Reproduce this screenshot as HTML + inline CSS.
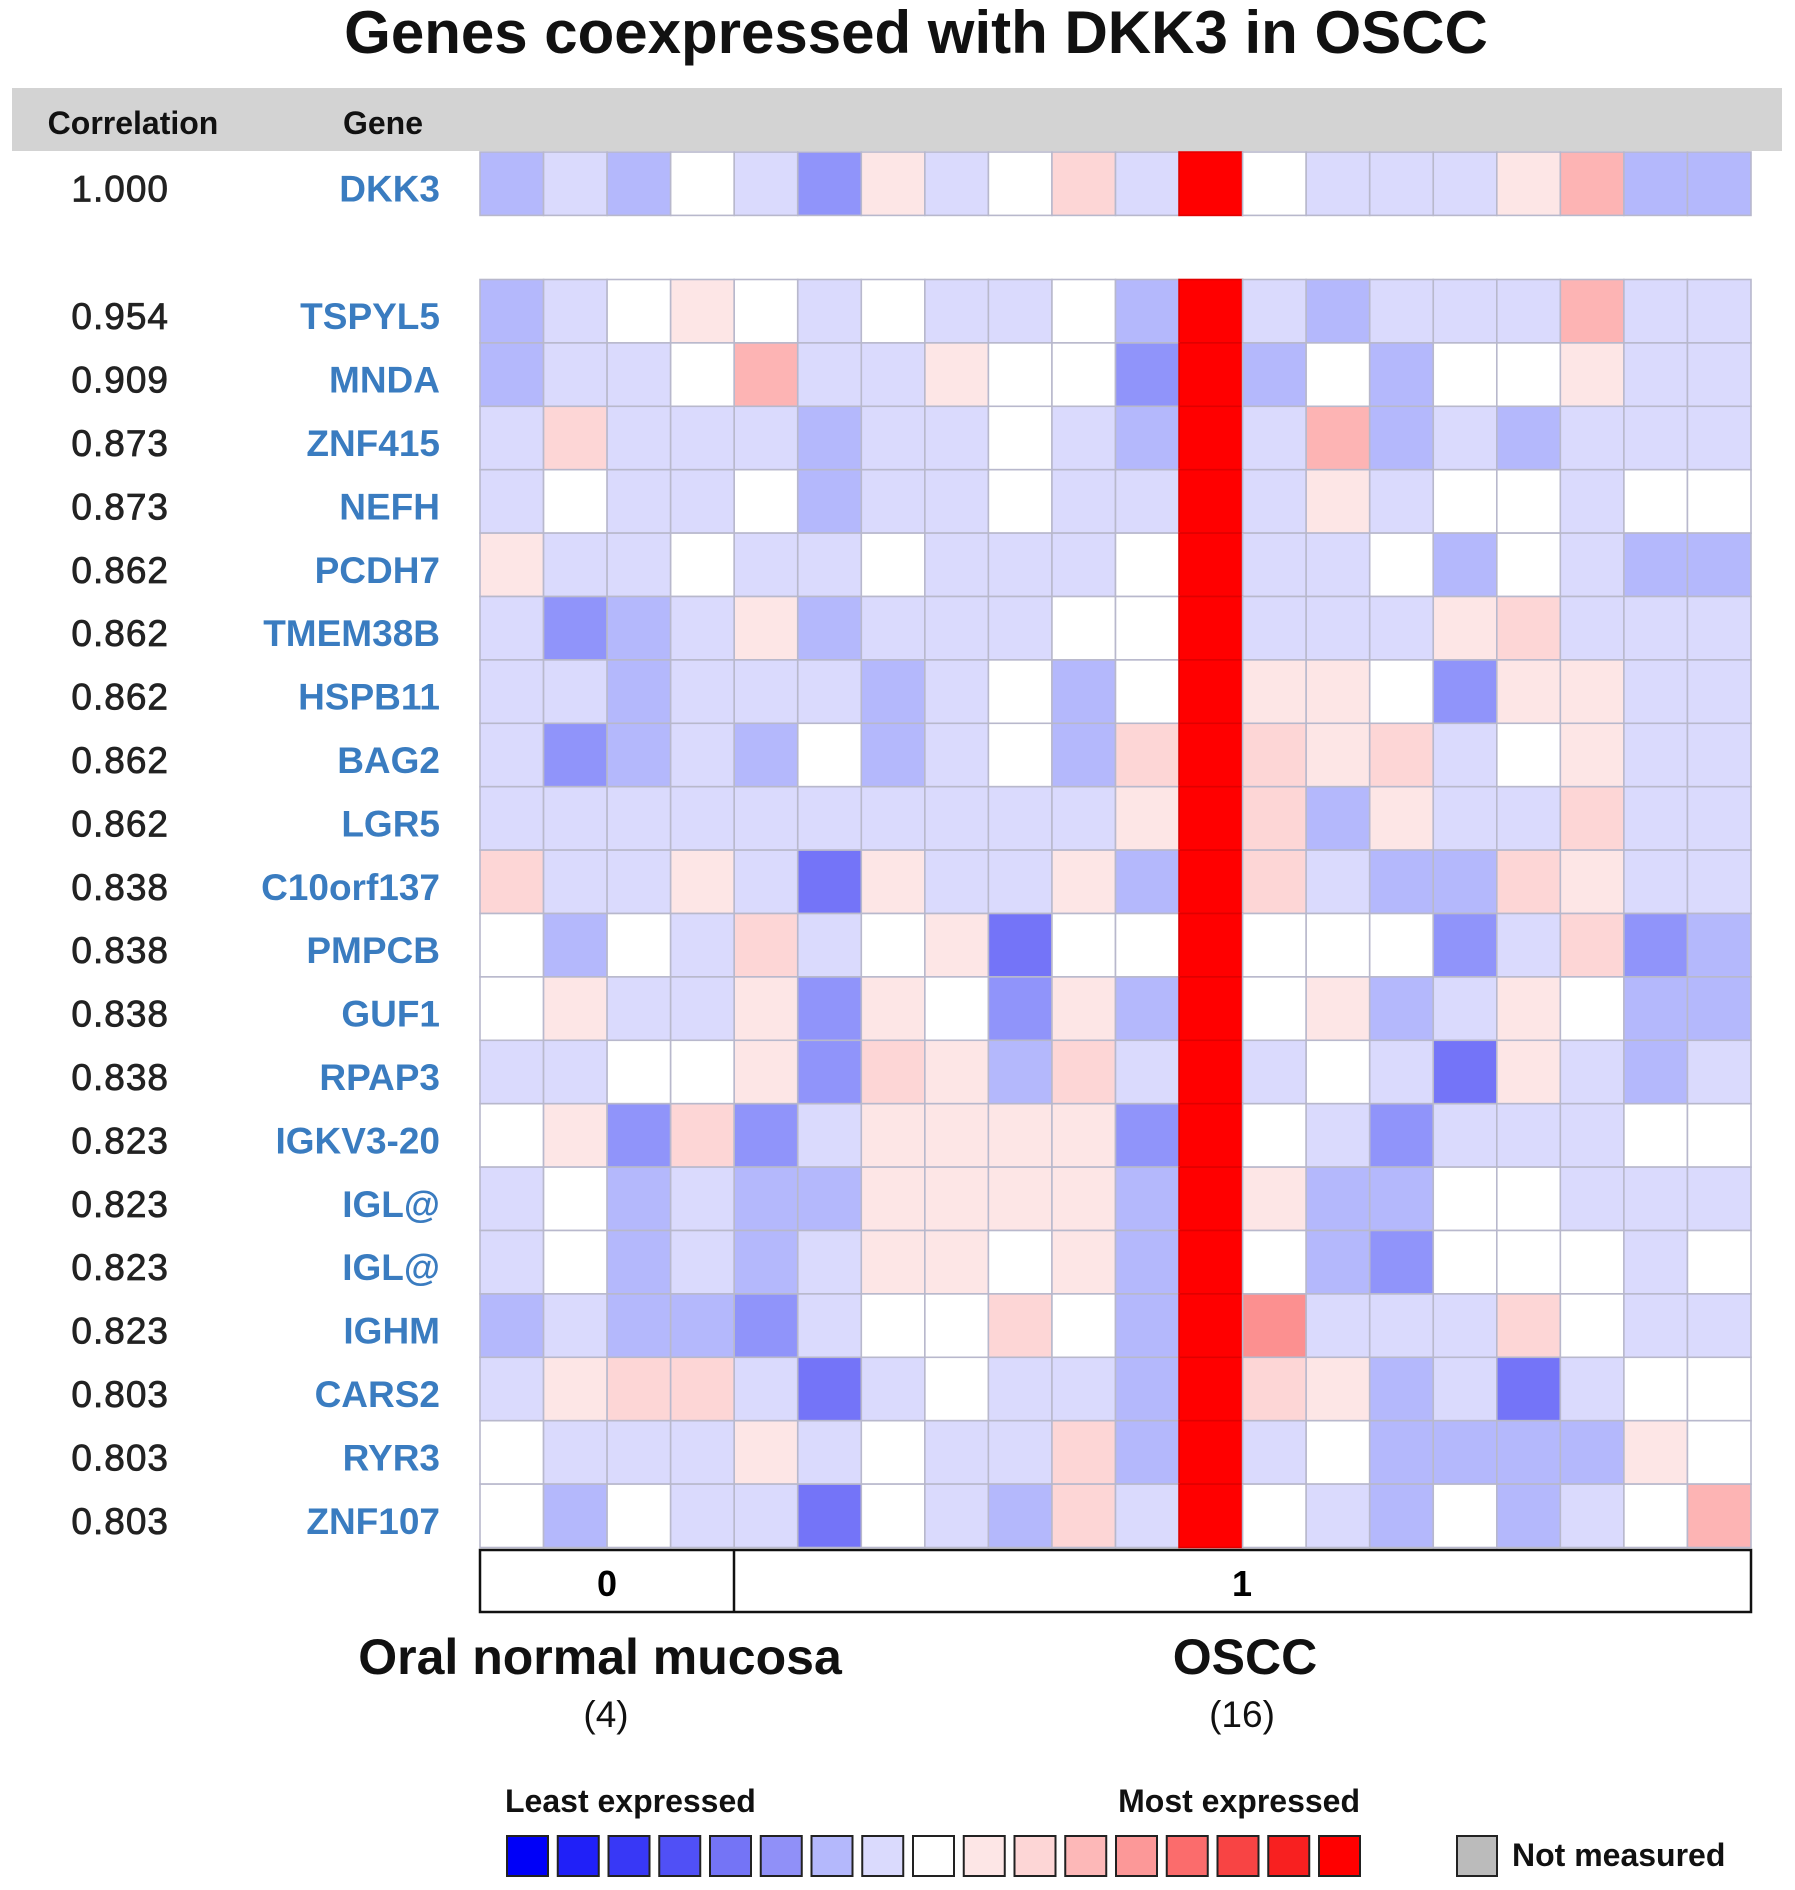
<!DOCTYPE html>
<html><head><meta charset="utf-8"><style>
html,body{margin:0;padding:0;background:#fff;}
svg{display:block;font-family:"Liberation Sans",Arial,sans-serif;}
</style></head><body>
<svg id="chart" width="1795" height="1890" viewBox="0 0 1795 1890" xmlns="http://www.w3.org/2000/svg">
<text x="916" y="53" text-anchor="middle" font-size="60" font-weight="bold" fill="#111">Genes coexpressed with DKK3 in OSCC</text>
<rect x="12" y="88" width="1770" height="63" fill="#d3d3d3"/>
<text x="133" y="134" text-anchor="middle" font-size="32" font-weight="bold" fill="#111">Correlation</text>
<text x="383" y="134" text-anchor="middle" font-size="32" font-weight="bold" fill="#111">Gene</text>
<g id="rows"></g>
<g id="cells"></g>
<g>
<rect x="480" y="1550" width="1271" height="62" fill="#fff" stroke="#111" stroke-width="2.5"/>
<line x1="734" y1="1550" x2="734" y2="1612" stroke="#111" stroke-width="2.5"/>
<text x="607" y="1596" text-anchor="middle" font-size="36" font-weight="bold">0</text>
<text x="1242" y="1596" text-anchor="middle" font-size="36" font-weight="bold">1</text>
</g>
<text x="600" y="1674" text-anchor="middle" font-size="50" font-weight="bold" fill="#111">Oral normal mucosa</text>
<text x="1245" y="1674" text-anchor="middle" font-size="50" font-weight="bold" fill="#111">OSCC</text>
<text x="606" y="1727" text-anchor="middle" font-size="37" fill="#111">(4)</text>
<text x="1242" y="1727" text-anchor="middle" font-size="37" fill="#111">(16)</text>
<text x="505" y="1812" font-size="32" font-weight="bold" fill="#111">Least expressed</text>
<text x="1360" y="1812" text-anchor="end" font-size="32" font-weight="bold" fill="#111">Most expressed</text>
<g id="legend"></g>
<rect x="1457" y="1836" width="40" height="40" fill="#bbb" stroke="#222" stroke-width="2"/>
<text x="1512" y="1866" font-size="32" font-weight="bold" fill="#111">Not measured</text>
</svg>
<script>
const genes = ["DKK3","TSPYL5","MNDA","ZNF415","NEFH","PCDH7","TMEM38B","HSPB11","BAG2","LGR5","C10orf137","PMPCB","GUF1","RPAP3","IGKV3-20","IGL@","IGL@","IGHM","CARS2","RYR3","ZNF107"];
const correlations = ["1.000","0.954","0.909","0.873","0.873","0.862","0.862","0.862","0.862","0.862","0.838","0.838","0.838","0.838","0.823","0.823","0.823","0.823","0.803","0.803","0.803"];
const R = 9;
const levels = [
[-2,-1,-2,0,-1,-3,1,-1,0,2,-1,R,0,-1,-1,-1,1,3,-2,-2],
[-2,-1,0,1,0,-1,0,-1,-1,0,-2,R,-1,-2,-1,-1,-1,3,-1,-1],
[-2,-1,-1,0,3,-1,-1,1,0,0,-3,R,-2,0,-2,0,0,1,-1,-1],
[-1,2,-1,-1,-1,-2,-1,-1,0,-1,-2,R,-1,3,-2,-1,-2,-1,-1,-1],
[-1,0,-1,-1,0,-2,-1,-1,0,-1,-1,R,-1,1,-1,0,0,-1,0,0],
[1,-1,-1,0,-1,-1,0,-1,-1,-1,0,R,-1,-1,0,-2,0,-1,-2,-2],
[-1,-3,-2,-1,1,-2,-1,-1,-1,0,0,R,-1,-1,-1,1,2,-1,-1,-1],
[-1,-1,-2,-1,-1,-1,-2,-1,0,-2,0,R,1,1,0,-3,1,1,-1,-1],
[-1,-3,-2,-1,-2,0,-2,-1,0,-2,2,R,2,1,2,-1,0,1,-1,-1],
[-1,-1,-1,-1,-1,-1,-1,-1,-1,-1,1,R,2,-2,1,-1,-1,2,-1,-1],
[2,-1,-1,1,-1,-4,1,-1,-1,1,-2,R,2,-1,-2,-2,2,1,-1,-1],
[0,-2,0,-1,2,-1,0,1,-4,0,0,R,0,0,0,-3,-1,2,-3,-2],
[0,1,-1,-1,1,-3,1,0,-3,1,-2,R,0,1,-2,-1,1,0,-2,-2],
[-1,-1,0,0,1,-3,2,1,-2,2,-1,R,-1,0,-1,-4,1,-1,-2,-1],
[0,1,-3,2,-3,-1,1,1,1,1,-3,R,0,-1,-3,-1,-1,-1,0,0],
[-1,0,-2,-1,-2,-2,1,1,1,1,-2,R,1,-2,-2,0,0,-1,-1,-1],
[-1,0,-2,-1,-2,-1,1,1,0,1,-2,R,0,-2,-3,0,0,0,-1,0],
[-2,-1,-2,-2,-3,-1,0,0,2,0,-2,R,4,-1,-1,-1,2,0,-1,-1],
[-1,1,2,2,-1,-4,-1,0,-1,-1,-2,R,2,1,-2,-1,-4,-1,0,0],
[0,-1,-1,-1,1,-1,0,-1,-1,2,-2,R,-1,0,-2,-2,-2,-2,1,0],
[0,-2,0,-1,-1,-4,0,-1,-2,2,-1,R,0,-1,-2,0,-2,-1,0,3]
];
const legendBlue = ["#0000f8","#2020f8","#3838f6","#5050f6","#7474f6","#9090f8","#b4b8fc","#dadafd"];
const legendRed = ["#fde6e6","#fdd6d6","#fdb8b8","#fc9898","#fb6c6c","#f84444","#f82020","#ff0000"];

const NS = "http://www.w3.org/2000/svg";
const colorMap = {"-4":"#7474f8","-3":"#9094fa","-2":"#b4b8fc","-1":"#dadafd","0":"#ffffff","1":"#fde6e6","2":"#fdd6d6","3":"#fdb4b4","4":"#fc9090","9":"#ff0000"};
const x0 = 480, colW = 63.55, rowH = 63.4;
function xPos(c){ return x0 + c*colW; }
function yPos(r){ return r === 0 ? 152 : 279.5 + (r-1)*rowH; }
function mk(tag, attrs){ const e = document.createElementNS(NS, tag); for (const k in attrs) e.setAttribute(k, attrs[k]); return e; }

const rowsG = document.getElementById('rows');
const cellsG = document.getElementById('cells');
genes.forEach((g, r) => {
  const cy = yPos(r) + rowH/2 + 18;
  const t1 = mk('text', {x:169, y:cy, 'text-anchor':'end', 'font-size':37, fill:'#222', stroke:'#222', 'stroke-width':0.8, 'letter-spacing':1});
  
  
  t1.textContent = correlations[r];
  rowsG.appendChild(t1);
  const t2 = mk('text', {x:440, y:cy, 'text-anchor':'end', 'font-size':37, 'font-weight':'bold', fill:'#3a7cc0'});
  
  
  t2.textContent = g;
  rowsG.appendChild(t2);
  levels[r].forEach((v, c) => {
    const red = v === R;
    const rect = mk('rect', {x:xPos(c), y:yPos(r), width:colW, height:rowH, fill:colorMap[v], stroke: red ? '#e00000' : '#b8b8cc', 'stroke-width':1.6});
    
    
    cellsG.appendChild(rect);
  });
});
const legG = document.getElementById('legend');
const sw = [];
legendBlue.forEach(c => sw.push(c));
sw.push("#ffffff");
legendRed.forEach(c => sw.push(c));
sw.forEach((c, i) => {
  const x = 507 + i*50.75;
  const rect = mk('rect', {x:x, y:1836, width:41, height:40, fill:c, stroke:'#222', 'stroke-width':2});
  
  
  legG.appendChild(rect);
});
</script>
</body></html>
